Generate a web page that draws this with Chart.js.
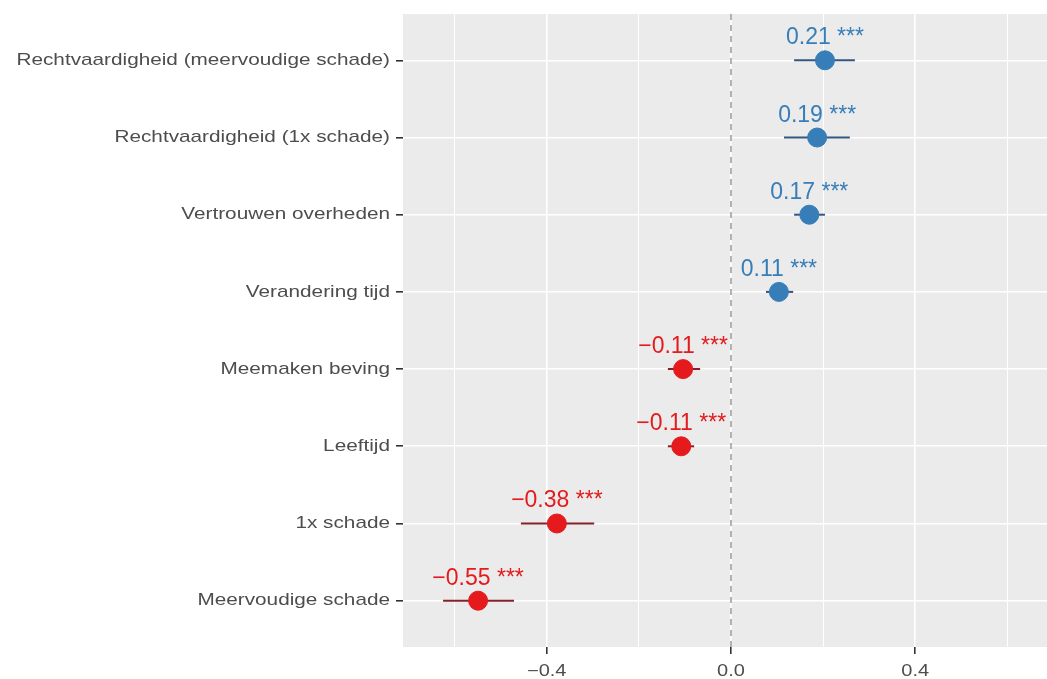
<!DOCTYPE html>
<html>
<head>
<meta charset="utf-8">
<script src="https://cdn.jsdelivr.net/npm/chart.js@4"></script>
<style>
  html, body { margin: 0; padding: 0; background: #fff; overflow: hidden; }
  canvas { display: block; }
</style>
</head>
<body>
<canvas id="coefChart" width="1047" height="679"></canvas>
<script>
// categories top to bottom
const categories = [
  'Rechtvaardigheid (meervoudige schade)',
  'Rechtvaardigheid (1x schade)',
  'Vertrouwen overheden',
  'Verandering tijd',
  'Meemaken beving',
  'Leeftijd',
  '1x schade',
  'Meervoudige schade'
];
const estimates = [0.204, 0.187, 0.170, 0.104, -0.104, -0.108, -0.378, -0.549];
const ciLow  = [0.137, 0.115, 0.137, 0.076, -0.137, -0.137, -0.456, -0.625];
const ciHigh = [0.269, 0.258, 0.204, 0.135, -0.067, -0.080, -0.297, -0.471];
const valueLabels = ['0.21', '0.19', '0.17', '0.11', '\u22120.11', '\u22120.11', '\u22120.38', '\u22120.55'];
const stars = ['***', '***', '***', '***', '***', '***', '***', '***'];
const xTicks = [-0.6, -0.4, -0.2, 0.0, 0.2, 0.4, 0.6];
const xMajor = [-0.4, 0.0, 0.4];
const xTickLabels = ['\u22120.4', '0.0', '0.4'];

const blue = '#377EB8';
const red = '#E41A1C';
const blueLine = '#33577f';
const redLine = '#86202a';
const FONT = '"Liberation Sans", Arial, sans-serif';

const colorFor = v => v >= 0 ? blue : red;
const isMajor = v => xMajor.some(m => Math.abs(m - v) < 1e-6);

const datasets = [];
categories.forEach((c, i) => {
  datasets.push({
    type: 'line',
    data: [{ x: ciLow[i], y: i }, { x: ciHigh[i], y: i }],
    borderColor: estimates[i] >= 0 ? blueLine : redLine,
    borderWidth: 2,
    pointRadius: 0,
    order: 2
  });
});
datasets.push({
  type: 'scatter',
  data: estimates.map((v, i) => ({ x: v, y: i })),
  backgroundColor: estimates.map(colorFor),
  borderColor: estimates.map(colorFor),
  pointRadius: 9.5,
  pointHoverRadius: 9.5,
  order: 1
});

// text is drawn a bit wider than the font, like in the original picture
function wideText(ctx, txt, x, y, sx) {
  ctx.save();
  ctx.translate(x, y);
  ctx.scale(sx, 1);
  ctx.fillText(txt, 0, 0);
  ctx.restore();
}

const panelBg = {
  id: 'panelBg',
  beforeDraw(chart) {
    const { ctx, chartArea: a } = chart;
    ctx.save();
    ctx.fillStyle = '#EBEBEB';
    ctx.fillRect(a.left, a.top, a.right - a.left, a.bottom - a.top);
    ctx.restore();
  },
  beforeDatasetsDraw(chart) {
    const { ctx, chartArea: a } = chart;
    const x0 = chart.scales.x.getPixelForValue(0);
    ctx.save();
    ctx.strokeStyle = '#9a9a9a';
    ctx.lineWidth = 1.5;
    ctx.setLineDash([6, 5]);
    ctx.beginPath();
    ctx.moveTo(x0, a.top);
    ctx.lineTo(x0, a.bottom);
    ctx.stroke();
    ctx.restore();
  },
  afterDatasetsDraw(chart) {
    const { ctx, chartArea: a } = chart;
    const xs = chart.scales.x, ys = chart.scales.y;
    ctx.save();
    // value labels
    ctx.font = '23px ' + FONT;
    ctx.textAlign = 'center';
    ctx.textBaseline = 'alphabetic';
    estimates.forEach((v, i) => {
      ctx.fillStyle = colorFor(v);
      ctx.fillText(valueLabels[i] + ' ' + stars[i], xs.getPixelForValue(v), ys.getPixelForValue(i) - 16);
    });
    // axis labels
    ctx.fillStyle = '#4D4D4D';
    ctx.font = '17px ' + FONT;
    ctx.textAlign = 'right';
    ctx.textBaseline = 'middle';
    categories.forEach((c, i) => {
      wideText(ctx, c, a.left - 13, ys.getPixelForValue(i), 1.22);
    });
    ctx.font = '16px ' + FONT;
    ctx.textAlign = 'center';
    ctx.textBaseline = 'alphabetic';
    xMajor.forEach((v, i) => {
      wideText(ctx, xTickLabels[i], xs.getPixelForValue(v), a.bottom + 29, 1.25);
    });
    ctx.restore();
  }
};

new Chart(document.getElementById('coefChart'), {
  data: { datasets },
  plugins: [panelBg],
  options: {
    responsive: false,
    animation: false,
    layout: { autoPadding: false, padding: { top: 14, right: 0, bottom: 0, left: 0 } },
    plugins: { legend: { display: false }, tooltip: { enabled: false } },
    scales: {
      x: {
        type: 'linear',
        min: -0.712,
        max: 0.686,
        afterBuildTicks: s => { s.ticks = xTicks.map(v => ({ value: v })); },
        afterFit: s => { s.height = 32; s.paddingLeft = 0; s.paddingRight = 0; },
        border: { display: false },
        grid: {
          color: '#ffffff',
          lineWidth: c => isMajor(c.tick.value) ? 1.6 : 1,
          tickColor: c => isMajor(c.tick.value) ? '#333333' : 'rgba(0,0,0,0)',
          tickLength: 7
        },
        ticks: { display: false }
      },
      y: {
        type: 'linear',
        reverse: true,
        min: -0.6,
        max: 7.6,
        afterBuildTicks: s => { s.ticks = categories.map((c, i) => ({ value: i })); },
        afterFit: s => { s.width = 403; s.paddingTop = 0; s.paddingBottom = 0; },
        border: { display: false },
        grid: {
          color: '#ffffff',
          lineWidth: 1.6,
          tickColor: '#333333',
          tickLength: 7
        },
        ticks: { display: false }
      }
    }
  }
});
</script>
</body>
</html>
